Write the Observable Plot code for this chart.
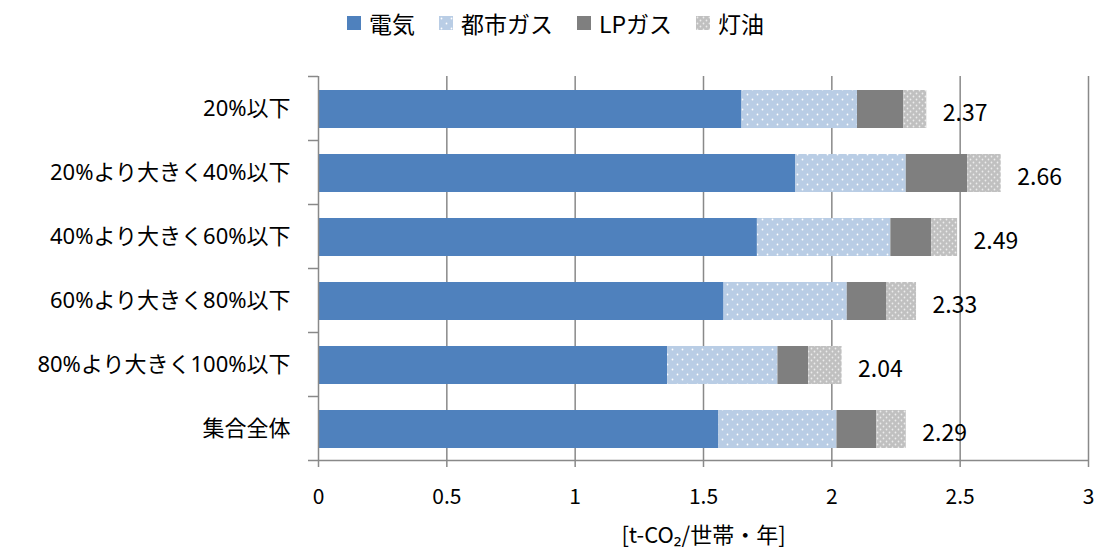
<!DOCTYPE html>
<html>
<head>
<meta charset="utf-8">
<script src="https://cdn.jsdelivr.net/npm/d3@7"></script>
<script src="https://cdn.jsdelivr.net/npm/@observablehq/plot@0.6"></script>
<style>
  html, body { margin: 0; padding: 0; background: #fff; }
  body { width: 1103px; height: 551px; overflow: hidden; font-family: "Noto Sans CJK JP", "Noto Sans", sans-serif; }
  #legend { height: 46px; display: flex; justify-content: center; align-items: center; gap: 24px; font-size: 23px; color: #000; padding-left: 8px; box-sizing: border-box; }
  .item { display: flex; align-items: center; gap: 8px; }
  .sw { width: 14px; height: 14px; display: inline-block; }
  .sw svg { display: block; }
  #chart svg { overflow: visible; }
</style>
</head>
<body>
<svg width="0" height="0" style="position:absolute">
  <defs>
    <pattern id="cityGasDots" patternUnits="userSpaceOnUse" width="10" height="10">
      <rect width="10" height="10" fill="#B9CDE5"></rect>
      <circle cx="2.5" cy="2.5" r="0.9" fill="#ffffff"></circle>
      <circle cx="7.5" cy="7.5" r="0.9" fill="#ffffff"></circle>
    </pattern>
    <pattern id="keroseneDots" patternUnits="userSpaceOnUse" width="6" height="6">
      <rect width="6" height="6" fill="#C0C0C0"></rect>
      <circle cx="1.5" cy="1.5" r="0.9" fill="#ececec"></circle>
      <circle cx="4.5" cy="4.5" r="0.9" fill="#ececec"></circle>
    </pattern>
  </defs>
</svg>
<div id="legend"></div>
<div id="chart"></div>
<script>
// ---- data ----
const categories = ["20%以下", "20%より大きく40%以下", "40%より大きく60%以下", "60%より大きく80%以下", "80%より大きく100%以下", "集合全体"];
const seriesNames = ["電気", "都市ガス", "LPガス", "灯油"];
const electricity = [1.65, 1.86, 1.71, 1.58, 1.36, 1.56];
const cityGas     = [0.45, 0.43, 0.52, 0.48, 0.43, 0.46];
const lpGas       = [0.18, 0.24, 0.16, 0.155, 0.12, 0.155];
const kerosene    = [0.09, 0.13, 0.10, 0.115, 0.13, 0.115];
const totals      = [2.37, 2.66, 2.49, 2.33, 2.04, 2.29];
const xTicks      = [0, 0.5, 1, 1.5, 2, 2.5, 3];
const xTickLabels = ["0", "0.5", "1", "1.5", "2", "2.5", "3"];
const seriesFills = ["#4F81BD", "url(#cityGasDots)", "#7F7F7F", "url(#keroseneDots)"];
const axisLabel = "[t-CO₂/世帯・年]";

const seriesValues = [electricity, cityGas, lpGas, kerosene];
const rows = [];
seriesNames.forEach((s, si) => {
  categories.forEach((c, ci) => rows.push({category: c, series: s, value: seriesValues[si][ci]}));
});
const totalRows = categories.map((c, i) => ({category: c, total: totals[i]}));

// ---- legend ----
const legend = document.getElementById("legend");
seriesNames.forEach((s, i) => {
  const it = document.createElement("div");
  it.className = "item";
  it.innerHTML = `<span class="sw"><svg width="14" height="14"><rect width="14" height="14" fill="${seriesFills[i]}"></rect></svg></span><span>${s}</span>`;
  legend.appendChild(it);
});

// ---- chart ----
const grid = "#898989";
const font = "Noto Sans CJK JP, Noto Sans, sans-serif";
const chart = Plot.plot({
  width: 1103,
  height: 505,
  marginTop: 30,
  marginBottom: 91,
  marginLeft: 318,
  marginRight: 15,
  style: {fontFamily: font, color: "#000", background: "transparent", overflow: "visible"},
  x: {domain: [0, 3]},
  y: {domain: categories, paddingInner: 0.41, paddingOuter: 0.205},
  color: {domain: seriesNames, range: seriesFills},
  marks: [
    Plot.ruleX(xTicks.slice(1), {stroke: grid, strokeWidth: 1.5}),
    Plot.barX(rows, Plot.stackX({x: "value", y: "category", fill: "series", order: seriesNames, dy: 1})),
    Plot.ruleX([0], {stroke: grid, strokeWidth: 1.5}),
    // category boundary ticks on the y axis
    Plot.ruleY([categories[0]], {y: d => d, dy: -32, x1: 0, x2: 0, insetLeft: -10, stroke: grid, strokeWidth: 1.5}),
    Plot.ruleY(categories.slice(0, -1), {y: d => d, dy: 32, x1: 0, x2: 0, insetLeft: -10, stroke: grid, strokeWidth: 1.5}),
    Plot.ruleY([categories[categories.length - 1]], {y: d => d, dy: 32, x1: 0, x2: 3, insetLeft: -10, stroke: grid, strokeWidth: 1.5}),
    Plot.axisY({tickSize: 0, tickPadding: 28, fontSize: 22, fontFamily: "Noto Sans, Noto Sans CJK JP, sans-serif", label: null}),
    Plot.axisX({ticks: xTicks, tickSize: 7, tickPadding: 22, fontSize: 21, stroke: grid, strokeWidth: 1.5,
      tickFormat: (d) => xTickLabels[xTicks.indexOf(d)], label: null}),
    Plot.axisX({ticks: [], tickSize: 0, fontSize: 22,
      label: axisLabel, labelAnchor: "center", labelOffset: 82, labelArrow: "none"}),
    Plot.text(totalRows, {x: "total", y: "category", text: d => d.total.toFixed(2), dx: 16, dy: 5, textAnchor: "start", fontSize: 23, fill: "#000"})
  ]
});
document.getElementById("chart").appendChild(chart);
</script>
</body>
</html>
